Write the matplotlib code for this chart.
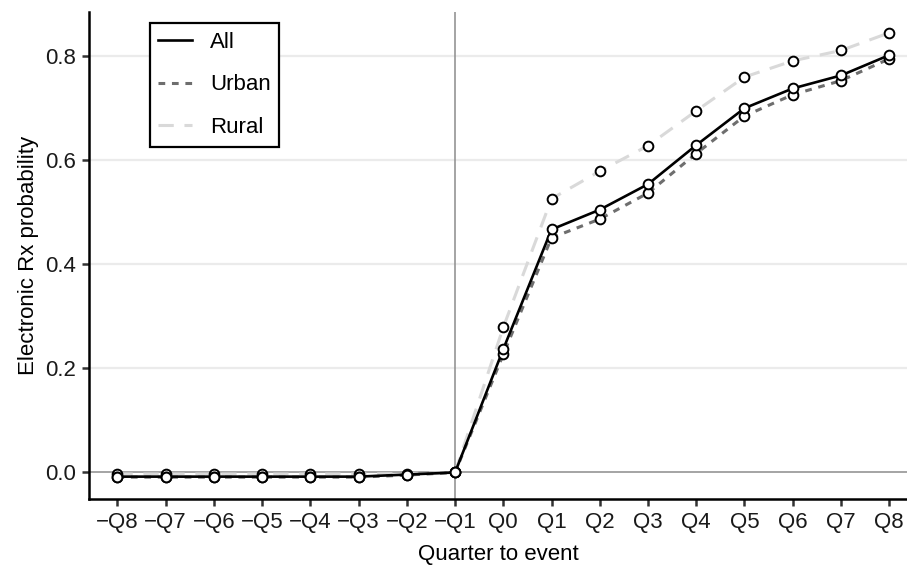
import matplotlib.pyplot as plt
import numpy as np

plt.rcParams['font.family'] = ['Liberation Sans', 'DejaVu Sans']

# quarters relative to the event
quarters = np.arange(-8, 9)
tick_labels = ["\u2212Q8", "\u2212Q7", "\u2212Q6", "\u2212Q5", "\u2212Q4", "\u2212Q3", "\u2212Q2", "\u2212Q1",
               "Q0", "Q1", "Q2", "Q3", "Q4", "Q5", "Q6", "Q7", "Q8"]

# estimated probabilities
all_vals = [-0.008, -0.008, -0.008, -0.008, -0.008, -0.008, -0.004, 0.0,
            0.237, 0.467, 0.505, 0.554, 0.629, 0.700, 0.738, 0.763, 0.802]
urban_vals = [-0.009, -0.009, -0.009, -0.009, -0.009, -0.009, -0.005, 0.0,
              0.227, 0.451, 0.487, 0.537, 0.613, 0.685, 0.726, 0.753, 0.795]
rural_vals = [-0.003, -0.003, -0.003, -0.003, -0.003, -0.003, -0.002, 0.0,
              0.279, 0.526, 0.579, 0.628, 0.695, 0.760, 0.791, 0.811, 0.845]

FS = 16

fig = plt.figure(figsize=(9.07, 5.65), dpi=100)
ax = fig.add_axes([0.0981, 0.1168, 0.9019, 0.862])

# grid and reference lines
for y in [0.2, 0.4, 0.6, 0.8]:
    ax.axhline(y, color="#ebebeb", lw=1.6, zorder=0)
ax.axhline(0, color="#8c8c8c", lw=1.1, zorder=1)
ax.axvline(-1, color="#8c8c8c", lw=1.1, zorder=1)

# series
ax.plot(quarters, rural_vals, color="#d9d9d9", lw=2.2, ls=(0, (5, 3.5)), label="Rural", zorder=2)
ax.plot(quarters, urban_vals, color="#6e6e6e", lw=2.2, ls=(0, (2.2, 2.2)), label="Urban", zorder=3)
ax.plot(quarters, all_vals, color="black", lw=1.9, ls="-", label="All", zorder=4)
for vals in [rural_vals, urban_vals, all_vals]:
    ax.plot(quarters, vals, ls="none", marker="o", ms=7, mfc="white", mec="black", mew=1.4, zorder=5)

ax.set_xlim(-8.59, 8.37)
ax.set_ylim(-0.051, 0.885)
ax.set_xticks(quarters)
ax.set_xticklabels(tick_labels)
ax.set_yticks([0.0, 0.2, 0.4, 0.6, 0.8])
ax.set_yticklabels(["0.0", "0.2", "0.4", "0.6", "0.8"])
ax.tick_params(axis="both", labelsize=FS, length=5, width=1.8, color="#333333", labelcolor="#1a1a1a", pad=4)

ax.set_xlabel("Quarter to event", fontsize=FS, labelpad=8)
ax.set_ylabel("Electronic Rx probability", fontsize=FS, labelpad=5)

for side in ["top", "right"]:
    ax.spines[side].set_visible(False)
for side in ["left", "bottom"]:
    ax.spines[side].set_linewidth(1.8)
    ax.spines[side].set_color("black")

handles, labels = ax.get_legend_handles_labels()
order = [labels.index(n) for n in ["All", "Urban", "Rural"]]
leg = ax.legend([handles[i] for i in order], [labels[i] for i in order],
                loc="upper left", bbox_to_anchor=(0.074, 0.977), fontsize=FS,
                frameon=True, fancybox=False, edgecolor="black", framealpha=1,
                handlelength=1.55, handletextpad=0.8, labelspacing=0.98, borderpad=0.38,
                borderaxespad=0)
leg.get_frame().set_linewidth(1.6)

plt.savefig("out.png", dpi=100)
